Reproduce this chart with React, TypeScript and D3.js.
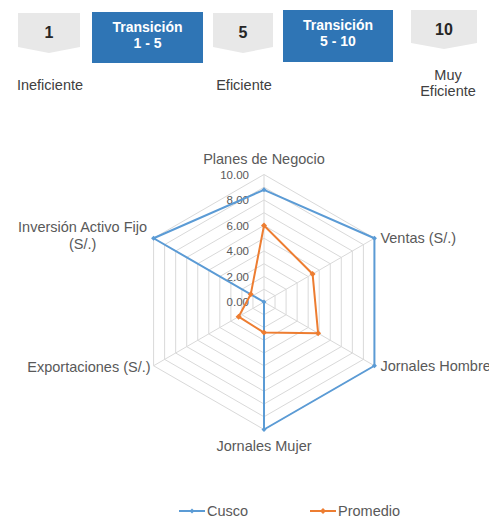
import React from "react";
import * as d3 from "d3";

const categories = [
  "Planes de Negocio",
  "Ventas (S/.)",
  "Jornales Hombre",
  "Jornales Mujer",
  "Exportaciones (S/.)",
  "Inversión Activo Fijo|(S/.)",
];
const cusco = [8.8, 10, 10, 10, 0, 10];
const promedio = [6.0, 4.4, 4.9, 2.4, 2.3, 1.2];
const tickValues = [0, 2, 4, 6, 8, 10];
const gridLevels = [1, 2, 3, 4, 5, 6, 7, 8, 9, 10];
const seriesNames = ["Cusco", "Promedio"];

const scaleBoxes = [
  { kind: "gray", lines: ["1"], label: ["Ineficiente"] },
  { kind: "blue", lines: ["Transición", "1 - 5"], label: [] },
  { kind: "gray", lines: ["5"], label: ["Eficiente"] },
  { kind: "blue", lines: ["Transición", "5 - 10"], label: [] },
  { kind: "gray", lines: ["10"], label: ["Muy", "Eficiente"] },
];

const FONT = "'Liberation Sans', Arial, sans-serif";
const BLUE_LINE = "#5b9bd5";
const ORANGE = "#ed7d31";
const GRID = "#d9d9d9";
const TXT = "#595959";

export default function App() {
  const cx = 264;
  const cy = 302;
  const R = 127.5;
  const r = d3.scaleLinear().domain([0, 10]).range([0, R]);
  const n = categories.length;
  const angle = (i: number) => -Math.PI / 2 + (i * 2 * Math.PI) / n;
  const pt = (i: number, v: number): [number, number] => [
    cx + r(v) * Math.cos(angle(i)),
    cy + r(v) * Math.sin(angle(i)),
  ];
  const lineGen = d3.line<[number, number]>();
  const ringPath = (lvl: number) =>
    lineGen(d3.range(n).map((i) => pt(i, lvl))) + "Z";
  const seriesPath = (vals: number[]) =>
    lineGen(vals.map((v, i) => pt(i, v))) + "Z";

  const diamond = (x: number, y: number, s: number) =>
    `M${x},${y - s}L${x + s},${y}L${x},${y + s}L${x - s},${y}Z`;

  // top boxes layout
  const boxGeo = [
    { x: 18, y: 13, w: 62, h: 34 },
    { x: 92, y: 12, w: 111, h: 51 },
    { x: 213, y: 13, w: 60, h: 34 },
    { x: 283, y: 10, w: 110, h: 52 },
    { x: 411, y: 10, w: 66, h: 33 },
  ];

  return (
    <svg
      width={489}
      height={520}
      style={{ position: "absolute", left: 0, top: 0, background: "#fff" }}
      fontFamily={FONT}
    >
      {/* top scale */}
      {scaleBoxes.map((b, i) => {
        const g = boxGeo[i];
        const mx = g.x + g.w / 2;
        if (b.kind === "blue") {
          return (
            <g key={i}>
              <rect x={g.x} y={g.y} width={g.w} height={g.h} fill="#2f75b5" />
              {b.lines.map((t, j) => (
                <text
                  key={j}
                  x={mx}
                  y={g.y + 20 + j * 16}
                  textAnchor="middle"
                  fontSize={14}
                  fontWeight="bold"
                  fill="#fff"
                >
                  {t}
                </text>
              ))}
            </g>
          );
        }
        const d = `M${g.x},${g.y}L${g.x + g.w},${g.y}L${g.x + g.w},${g.y + g.h}L${mx},${g.y + g.h + 6}L${g.x},${g.y + g.h}Z`;
        return (
          <g key={i}>
            <path d={d} fill="#e8e8e8" />
            <text
              x={mx}
              y={g.y + 25}
              textAnchor="middle"
              fontSize={16}
              fontWeight="bold"
              fill="#262626"
            >
              {b.lines[0]}
            </text>
            {b.label.map((t, j) => (
              <text
                key={j}
                x={i === 4 ? mx + 4 : mx + 1}
                y={(b.label.length > 1 ? 80 : 90) + j * 16}
                textAnchor="middle"
                fontSize={14.5}
                fill="#404040"
              >
                {t}
              </text>
            ))}
          </g>
        );
      })}

      {/* grid */}
      {gridLevels.map((lvl) => (
        <path key={lvl} d={ringPath(lvl)} fill="none" stroke={GRID} strokeWidth={1} />
      ))}
      {d3.range(n).map((i) => {
        const [x, y] = pt(i, 10);
        return <line key={i} x1={cx} y1={cy} x2={x} y2={y} stroke={GRID} strokeWidth={1} />;
      })}

      {/* tick labels */}
      {tickValues.map((t) => (
        <text
          key={t}
          x={cx - 15}
          y={cy - r(t)}
          dy="0.35em"
          textAnchor="end"
          fontSize={11.5}
          fill={TXT}
        >
          {t.toFixed(2)}
        </text>
      ))}

      {/* series */}
      <path d={seriesPath(cusco)} fill="none" stroke={BLUE_LINE} strokeWidth={2} strokeLinejoin="round" />
      {cusco.map((v, i) => {
        const [x, y] = pt(i, v);
        return <path key={i} d={diamond(x, y, 2.5)} fill={BLUE_LINE} />;
      })}
      <path d={seriesPath(promedio)} fill="none" stroke={ORANGE} strokeWidth={2} strokeLinejoin="round" />
      {promedio.map((v, i) => {
        const [x, y] = pt(i, v);
        return <path key={i} d={diamond(x, y, 3)} fill={ORANGE} />;
      })}

      {/* category labels */}
      {categories.map((c, i) => {
        const [vx, vy] = pt(i, 10);
        const lines = c.split("|");
        const cos = Math.cos(angle(i));
        const sin = Math.sin(angle(i));
        let anchor = "middle";
        let x = vx;
        let y = vy;
        if (Math.abs(cos) < 0.01) {
          y = sin < 0 ? vy - 16 : vy + 16;
        } else if (cos > 0) {
          anchor = "start";
          x = vx + 6;
        } else {
          anchor = lines.length > 1 ? "middle" : "end";
          x = lines.length > 1 ? vx - 71 : vx - 3;
          y = lines.length > 1 ? vy - 3 : vy + 1;
        }
        return (
          <text key={i} textAnchor={anchor} fontSize={14.5} fill={TXT}>
            {lines.map((l, j) => (
              <tspan key={j} x={x} y={y + (j - (lines.length - 1) / 2) * 17} dy="0.35em">
                {l}
              </tspan>
            ))}
          </text>
        );
      })}

      {/* legend */}
      {seriesNames.map((s, i) => {
        const lx = i === 0 ? 179 : 310;
        const ly = 511;
        const col = i === 0 ? BLUE_LINE : ORANGE;
        return (
          <g key={s}>
            <line x1={lx} y1={ly} x2={lx + 26} y2={ly} stroke={col} strokeWidth={2} />
            <path d={diamond(lx + 13, ly, i === 0 ? 2.5 : 3)} fill={col} />
            <text x={lx + 28} y={ly} dy="0.35em" fontSize={14.5} fill={TXT}>
              {s}
            </text>
          </g>
        );
      })}
    </svg>
  );
}
